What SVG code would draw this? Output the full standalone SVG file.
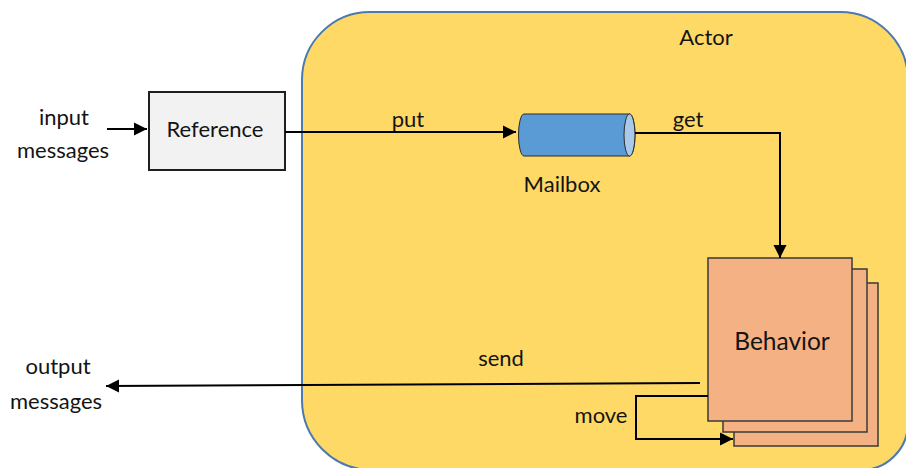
<svg xmlns="http://www.w3.org/2000/svg" width="906" height="468" viewBox="0 0 906 468">
  <style>
    .lbl { font-family: Lato, "Liberation Sans", Arial, sans-serif; font-size: 22px; fill: #141414; text-anchor: middle; }
    .big { font-size: 24.5px; }
    .wire { fill: none; stroke: #000; stroke-width: 2; }
    .card { fill: #f4b183; stroke: #3a3a3a; stroke-width: 1.5; }
  </style>
  <defs>
    <marker id="head" markerUnits="userSpaceOnUse" markerWidth="14" markerHeight="14" refX="13" refY="7" orient="auto">
      <path d="M0,0.5 L13,7 L0,13.5 Z" fill="#000"/>
    </marker>
  </defs>

  <rect width="906" height="468" fill="#fff"/>

  <!-- actor boundary -->
  <g id="actor">
    <path d="M302,80 A68,68 0 0 1 370,12 H840 A68,68 0 0 1 908,80 V423 A47,47 0 0 1 861,470 H372 A70,70 0 0 1 302,400 Z"
          fill="#ffd966" stroke="#4a7ab0" stroke-width="2"/>
    <text class="lbl" x="706" y="45">Actor</text>
  </g>

  <!-- reference -->
  <g id="reference">
    <rect x="149" y="92" width="136" height="78" fill="#f2f2f2" stroke="#1f1f1f" stroke-width="2"/>
    <text class="lbl" x="215" y="137">Reference</text>
  </g>

  <!-- mailbox queue -->
  <g id="mailbox">
    <path d="M524,114 H629.5 A5.5,21 0 0 1 629.5,156 H524 A5.5,21 0 0 1 524,114 Z" fill="#5b9bd5" stroke="#2a2a2a" stroke-width="1"/>
    <ellipse cx="629.5" cy="135" rx="5.5" ry="21" fill="#a9c9ea" stroke="#2a2a2a" stroke-width="1"/>
    <text class="lbl" x="562" y="192">Mailbox</text>
  </g>

  <!-- behavior stack -->
  <g id="behavior">
    <rect class="card" x="734" y="283" width="144" height="163"/>
    <rect class="card" x="723" y="269" width="144" height="163"/>
    <rect class="card" x="708" y="258" width="144" height="163"/>
    <text class="lbl big" x="782" y="350">Behavior</text>
  </g>

  <!-- external ends -->
  <g id="inputs">
    <text class="lbl" x="64" y="125">input</text>
    <text class="lbl" x="63" y="158">messages</text>
  </g>
  <g id="outputs">
    <text class="lbl" x="58" y="374">output</text>
    <text class="lbl" x="56" y="409">messages</text>
  </g>

  <g id="connectors">
    <line class="wire" x1="107" y1="129" x2="147" y2="129" marker-end="url(#head)"/>
    <line class="wire" x1="285" y1="132" x2="516" y2="132" marker-end="url(#head)"/>
    <polyline class="wire" points="635,133 780,133 780,258" marker-end="url(#head)"/>
    <line class="wire" x1="700" y1="383" x2="106" y2="386" marker-end="url(#head)"/>
    <polyline class="wire" points="708,396 636,396 636,439 733,439" marker-end="url(#head)"/>
  </g>

  <g id="edge-labels">
    <text class="lbl" x="408" y="127">put</text>
    <text class="lbl" x="688" y="127">get</text>
    <text class="lbl" x="501" y="366">send</text>
    <text class="lbl" x="601" y="423">move</text>
  </g>
</svg>
